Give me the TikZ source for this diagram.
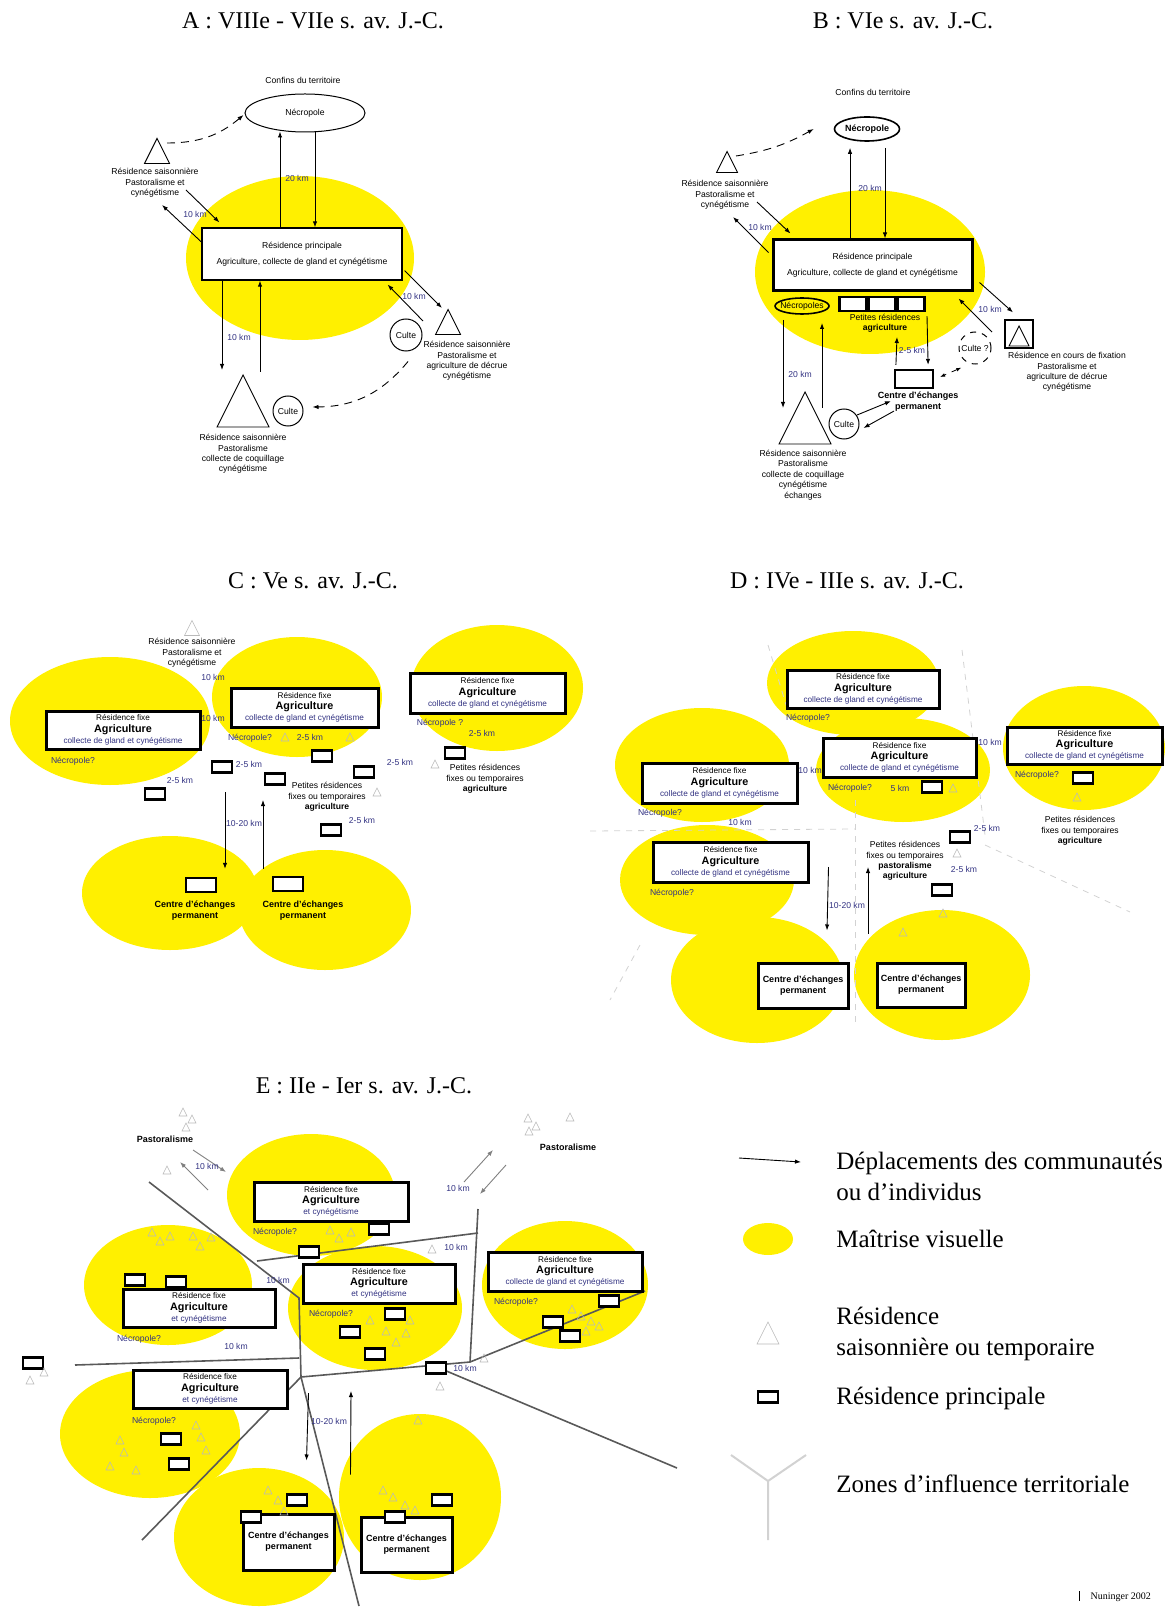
\documentclass[tikz,border=0pt]{standalone}
\usepackage{fontspec}
\setmainfont{Liberation Serif}
\setsansfont{Liberation Sans}
\usetikzlibrary{arrows.meta,shapes.geometric,calc}
\definecolor{ycol}{RGB}{255,240,0}
\definecolor{tblue}{RGB}{50,50,130}
\newcommand\trg[5][trs]{\coordinate (#2) at (#3,#4);\path[#1] ($(#2)+(0,-#5/2)$) -- ($(#2)+(#5/2,#5/2)$) -- ($(#2)+(-#5/2,#5/2)$) -- cycle;}
\newcommand\ft[2]{\draw[ftr] (#1,#2-4) -- (#1+4,#2+4) -- (#1-4,#2+4) -- cycle;}
\newcommand\rfx[1]{Résidence fixe\\{\fontsize{5.4}{5.6}\selectfont\bfseries Agriculture}\\{\color{tblue}#1}}
\tikzset{
  yel/.style={fill=ycol},
  ttl/.style={font=\rmfamily\fontsize{12}{14}\selectfont, inner sep=0},
  lgt/.style={font=\rmfamily\fontsize{12.5}{15.5}\selectfont, inner sep=0, align=left},
  sm/.style={font=\sffamily\fontsize{4.3}{5.2}\selectfont, inner sep=0.5pt, align=center},
  smb/.style={font=\sffamily\bfseries\fontsize{4.5}{5.4}\selectfont, inner sep=0.5pt, align=center},
  arr/.style={-{Latex[length=3pt,width=2.2pt]}, line width=0.45pt},
  darr/.style={arr, dashed, dash pattern=on 4pt off 3pt},
  bxa/.style={draw, line width=0.6pt, fill=white, inner sep=0.5pt, align=center, font=\sffamily\fontsize{4.1}{5.6}\selectfont},
  bxt/.style={bxa, line width=1.5pt},
  rs/.style={draw, line width=1.1pt, fill=white, minimum width=10pt, minimum height=5.5pt, inner sep=0},
  trs/.style={draw, line width=0.45pt},
  ftr/.style={draw=gray!55, line width=0.3pt},
  zl/.style={draw=black!65, line width=0.8pt},
  zd/.style={draw=gray!35, dashed, line width=0.4pt},
}
\begin{document}
\begin{tikzpicture}[x=0.5pt,y=-0.5pt]
\useasboundingbox (0,0) rectangle (1167,1609);
% ================= PANEL A =================
\fill[yel] (300,258) ellipse [x radius=114, y radius=82];
\node[ttl] (tA) at (313,21) {A : VIIIe - VIIe s. av. J.-C.};
\node[sm] (confA) at (303,80) {Confins du territoire};
\node[draw, ellipse, line width=0.5pt, minimum width=60pt, minimum height=19pt, inner sep=0, sm] (necA) at (305,113) {Nécropole};
\node[bxa, font=\sffamily\fontsize{4.3}{5.2}\selectfont, minimum width=100pt, minimum height=26pt] (boxA) at (302,254) {Résidence principale\\[3pt]Agriculture, collecte de gland et cynégétisme};
\draw[arr] ($(boxA.north)+(-22,0)$) -- ($(necA.south)+(-25,-1)$);
\draw[arr] ($(necA.south)+(10,0)$) -- ($(boxA.north)+(13,0)$);
\node[sm, text=tblue] (kA1) at (297,178) {20 km};
\trg{trA1}{157}{151}{25}
\node[sm] (txA1) at (155,183) {Résidence saisonnière\\Pastoralisme et\\cynégétisme};
\draw[darr] ($(trA1)+(10,-8)$) to[bend right=20] ($(necA.west)+(-1,2)$);
\coordinate (a1s) at (186,190);
\draw[arr] (a1s) -- ($(boxA.north west)+(18,-5)$);
\coordinate (a1e) at (162,205);
\draw[arr] ($(boxA.west)+(0,-12)$) -- (a1e);
\node[sm, text=tblue] (kA2) at (195,214) {10 km};
\trg{trA2}{448}{322}{25}
\node[sm] (txA2) at (467,361) {Résidence saisonnière\\Pastoralisme et\\agriculture de décrue\\cynégétisme};
\node[draw, circle, line width=0.5pt, minimum size=16pt, inner sep=0, sm] (cuA1) at (406,335) {Culte};
\draw[arr] ($(boxA.south east)+(2,-10)$) -- ($(trA2)+(-6,-14)$);
\coordinate (a2s) at (423,321);
\draw[arr] (a2s) -- ($(boxA.south east)+(-15,4)$);
\node[sm, text=tblue] (kA3) at (414,296) {10 km};
\coordinate (a3e) at (222,370);
\draw[arr] ($(boxA.south)+(-80,0)$) -- (a3e);
\coordinate (a3s) at (260,372);
\draw[arr] (a3s) -- ($(boxA.south)+(-42,0)$);
\node[sm, text=tblue] (kA4) at (239,337) {10 km};
\trg{trA3}{243}{401}{52}
\node[draw, circle, line width=0.5pt, minimum size=15pt, inner sep=0, sm] (cuA2) at (288,411) {Culte};
\draw[darr] ($(cuA1.south)+(2,10)$) to[bend left=25] ($(cuA2.east)+(9,-4)$);
\node[sm] (txA3) at (243,454) {Résidence saisonnière\\Pastoralisme\\collecte de coquillage\\cynégétisme};
% ================= PANEL B =================
\fill[yel] (870,272) ellipse [x radius=115, y radius=82];
\node[ttl] (tB) at (903,21) {B : VIe s. av. J.-C.};
\node[sm] (confB) at (873,92) {Confins du territoire};
\node[draw, ellipse, line width=0.8pt, minimum width=30pt, minimum height=12pt, inner sep=0, smb] (necB) at (867,129) {Nécropole};
\trg{trB1}{727}{162}{21}
\node[sm] (txB1) at (725,195) {Résidence saisonnière\\Pastoralisme et\\cynégétisme};
\draw[darr] ($(trB1)+(9,-6)$) to[bend right=10] ($(necB.west)+(-20,0)$);
\node[bxt, font=\sffamily\fontsize{4.3}{5.2}\selectfont, minimum width=99.5pt, minimum height=25.5pt] (boxB) at (872.5,265.5) {Résidence principale\\[3pt]Agriculture, collecte de gland et cynégétisme};
\draw[arr] ($(boxB.north)+(-22.5,0)$) -- ($(necB.south)+(-17,6)$);
\draw[arr] ($(necB.south)+(18,6)$) -- ($(boxB.north)+(12.5,0)$);
\node[sm, text=tblue] (kB1) at (870,188) {20 km};
\coordinate (b1s) at (757,202);
\draw[arr] (b1s) -- ($(boxB.north west)+(19,-5)$);
\coordinate (b1e) at (733,217);
\draw[arr] ($(boxB.west)+(-3,-13)$) -- (b1e);
\node[sm, text=tblue] (kB2) at (760,227) {10 km};
\node[draw, line width=0.6pt, minimum size=14pt, inner sep=0] (sqB) at (1019,334) {};
\trg{trB2}{1019}{336}{20}
\draw[arr] ($(boxB.east)+(6,17)$) -- ($(sqB.north)+(-6,-7)$);
\coordinate (b2s) at (992,332);
\draw[arr] (b2s) -- ($(boxB.south east)+(-15,6)$);
\node[sm, text=tblue] (kB3) at (990,309) {10 km};
\node[sm] (txB2) at (1067,372) {Résidence en cours de fixation\\Pastoralisme et\\agriculture de décrue\\cynégétisme};
\node[sm] (necB2) at (802,306) {Nécropoles};
\draw[line width=0.8pt] (necB2) ellipse [x radius=27, y radius=8];
\node[rs, minimum width=13.5pt, minimum height=7pt] (rB1) at (853,304) {};
\node[rs, minimum width=13.5pt, minimum height=7pt] (rB2) at (882,304) {};
\node[rs, minimum width=13.5pt, minimum height=7pt] (rB3) at (911,304) {};
\node[sm] (txB3) at (885,323) {Petites résidences\\\textbf{agriculture}};
\node[rs, minimum width=19pt, minimum height=9pt] (ctB) at (914,379) {};
\node[smb] (txB4) at (918,402) {Centre d'échanges\\permanent};
\coordinate (b3e) at (897,337);
\draw[arr] ($(ctB.north west)+(2,-4)$) -- (b3e);
\draw[arr] ($(rB3.south)+(16,4)$) -- ($(ctB.north east)+(-6,-4)$);
\node[sm, text=tblue] (kB4) at (912,350) {2-5 km};
\node[draw, dashed, circle, line width=0.5pt, minimum size=16pt, inner sep=0, sm] (cuB1) at (975,348) {Culte ?};
\draw[dashed, line width=0.4pt, {Latex[length=2.5pt]}-{Latex[length=2.5pt]}] ($(cuB1.south west)+(-2,8)$) -- ($(ctB.east)+(6,-2)$);
\trg{trB3}{805}{418}{52}
\draw[arr] ($(necB2)+(-19,14)$) -- ($(trB3)+(-22,-10)$);
\draw[arr] ($(trB3)+(17,-10)$) -- ($(necB2)+(20,17)$);
\node[sm, text=tblue] (kB5) at (800,374) {20 km};
\node[draw, circle, line width=0.5pt, minimum size=15pt, inner sep=0, sm] (cuB2) at (844,424) {Culte};
\draw[arr] ($(cuB2.north east)+(2,2)$) -- ($(ctB.south west)+(-3,12)$);
\draw[arr] ($(ctB.south west)+(0,22)$) -- ($(cuB2.east)+(4,4)$);
\node[sm] (txB5) at (803,475) {Résidence saisonnière\\Pastoralisme\\collecte de coquillage\\cynégétisme\\échanges};
% ================= PANEL C =================
\fill[yel] (110,721) ellipse [x radius=100, y radius=64];
\fill[yel] (297,697) ellipse [x radius=85, y radius=60];
\fill[yel] (497,688) ellipse [x radius=86, y radius=63];
\fill[yel] (170,893) ellipse [x radius=88, y radius=57];
\fill[yel] (325,910) ellipse [x radius=86, y radius=60];
\node[ttl] (tC) at (313,581) {C : Ve s. av. J.-C.};
\trg[ftr]{trC0}{192}{628}{15}
\node[sm] (txC0) at (192,653) {Résidence saisonnière\\Pastoralisme et\\cynégétisme};
\node[bxt, minimum width=77pt, minimum height=19pt] (bC1) at (123,730) {\rfx{collecte de gland et cynégétisme}};
\node[bxt, minimum width=73.5pt, minimum height=19.5pt] (bC2) at (304.5,707.5) {\rfx{collecte de gland et cynégétisme}};
\node[bxt, minimum width=77.5pt, minimum height=20pt] (bC3) at (487.5,693) {\rfx{collecte de gland et cynégétisme}};
\node[sm, text=tblue] (kC1) at (213,677) {10 km};
\node[sm, text=tblue] (kC2) at (213,718) {10 km};
\node[sm, text=tblue] (nC1) at (73,761) {Nécropole?};
\node[sm, text=tblue] (nC2) at (250,738) {Nécropole?};
\ft{285}{737}
\node[sm, text=tblue] (kC3) at (310,737) {2-5 km};
\ft{350}{737}
\node[sm, text=tblue] (nC3) at (440,723) {Nécropole ?};
\node[sm, text=tblue] (kC4) at (482,733) {2-5 km};
\node[rs] (rC1) at (222,767) {};
\node[rs] (rC2) at (155,794) {};
\node[rs] (rC3) at (275,779) {};
\node[rs] (rC4) at (322,756) {};
\node[rs] (rC5) at (364,772) {};
\node[rs] (rC6) at (331,830) {};
\node[rs] (rC7) at (455,753) {};
\node[sm, text=tblue] (kC5) at (249,764) {2-5 km};
\node[sm, text=tblue] (kC6) at (180,780) {2-5 km};
\node[sm, text=tblue] (kC7) at (362,820) {2-5 km};
\node[sm, text=tblue] (kC8) at (400,762) {2-5 km};
\ft{435}{764}
\ft{377}{792}
\node[sm] (txC1) at (327,797) {Petites résidences\\fixes ou temporaires\\\textbf{agriculture}};
\node[sm] (txC2) at (485,779) {Petites résidences\\fixes ou temporaires\\\textbf{agriculture}};
\node[rs, minimum width=15pt, minimum height=7pt] (rC8) at (201,885) {};
\node[rs, minimum width=15pt, minimum height=7pt] (rC9) at (288,884) {};
\coordinate (c1s) at (225,792);
\draw[arr] (c1s) -- ($(rC8.north)+(24,-8)$);
\coordinate (c2e) at (263,800);
\draw[arr] ($(rC9.north)+(-25,-7)$) -- (c2e);
\node[sm, text=tblue] (kC9) at (244,823) {10-20 km};
\node[smb] (txC3) at (195,911) {Centre d'échanges\\permanent};
\node[smb] (txC4) at (303,911) {Centre d'échanges\\permanent};
% ================= PANEL D =================
\fill[yel] (853,683) ellipse [x radius=86, y radius=52];
\fill[yel] (903,770) ellipse [x radius=87, y radius=52];
\fill[yel] (702,765) ellipse [x radius=87, y radius=57];
\fill[yel] (1084,748) ellipse [x radius=81, y radius=62];
\fill[yel] (707,880) ellipse [x radius=87, y radius=55];
\fill[yel] (757,980) ellipse [x radius=86, y radius=63];
\fill[yel] (942,975) ellipse [x radius=88, y radius=65];
\draw[zd] (590,831) -- (855,829);
\draw[zd] (855,800) -- (855,1025);
\draw[zd] (768,645) -- (790,718);
\draw[zd] (962,650) -- (985,835);
\draw[zd] (985,845) -- (1130,912);
\draw[zd] (640,945) -- (610,1000);
\node[ttl] (tD) at (847,581) {D : IVe - IIIe s. av. J.-C.};
\node[bxt, minimum width=76pt, minimum height=19pt] (bD1) at (863,689) {\rfx{collecte de gland et cynégétisme}};
\node[bxt, minimum width=76.5pt, minimum height=19.5pt] (bD2) at (899.5,757.5) {\rfx{collecte de gland et cynégétisme}};
\node[bxt, minimum width=77.5pt, minimum height=20pt] (bD3) at (719.5,783) {\rfx{collecte de gland et cynégétisme}};
\node[bxt, minimum width=77.5pt, minimum height=18.5pt] (bD4) at (1084.5,745.5) {\rfx{collecte de gland et cynégétisme}};
\node[bxt, minimum width=77.5pt, minimum height=20pt] (bD5) at (730.5,862) {\rfx{collecte de gland et cynégétisme}};
\node[sm, text=tblue] (nD1) at (808,718) {Nécropole?};
\node[sm, text=tblue] (nD2) at (850,788) {Nécropole?};
\node[sm, text=tblue] (kD1) at (900,788) {5 km};
\node[rs] (rD1) at (932,787) {};
\ft{953}{788}
\node[sm, text=tblue] (nD3) at (660,813) {Nécropole?};
\node[sm, text=tblue] (kD2) at (740,822) {10 km};
\node[sm, text=tblue] (kD3) at (810,770) {10 km};
\node[sm, text=tblue] (nD4) at (1037,775) {Nécropole?};
\node[rs] (rD2) at (1083,778) {};
\ft{1077}{797}
\node[sm, text=tblue] (kD4) at (990,742) {10 km};
\node[sm] (txD1) at (1080,831) {Petites résidences\\fixes ou temporaires\\\textbf{agriculture}};
\node[sm, text=tblue] (nD5) at (672,893) {Nécropole?};
\node[sm] (txD2) at (905,861) {Petites résidences\\fixes ou temporaires\\\textbf{pastoralisme}\\\textbf{agriculture}};
\node[rs] (rD3) at (960,837) {};
\node[rs] (rD4) at (942,890) {};
\ft{957}{853}
\node[sm, text=tblue] (kD5) at (987,828) {2-5 km};
\node[sm, text=tblue] (kD6) at (964,869) {2-5 km};
\node[bxt, minimum width=45pt, minimum height=22.5pt, smb] (bD6) at (803,985.5) {Centre d'échanges\\permanent};
\node[bxt, minimum width=44pt, minimum height=22pt, smb] (bD7) at (921,985) {Centre d'échanges\\permanent};
\draw[arr] ($(bD5.east)+(19,5)$) -- ($(bD6.north)+(24,-31)$);
\coordinate (d2e) at (868,867);
\draw[arr] ($(bD7.north)+(-53,-28)$) -- (d2e);
\node[sm, text=tblue] (kD7) at (847,905) {10-20 km};
\ft{903}{932}
\ft{943}{913}
% ================= PANEL E =================
\fill[yel] (311,1195) ellipse [x radius=84, y radius=61];
\fill[yel] (168,1285) ellipse [x radius=84, y radius=60];
\fill[yel] (375,1308) ellipse [x radius=87, y radius=62];
\fill[yel] (565,1285) ellipse [x radius=83, y radius=64];
\fill[yel] (150,1434) ellipse [x radius=90, y radius=64];
\fill[yel] (259,1537) ellipse [x radius=85, y radius=69];
\fill[yel] (420,1497) ellipse [x radius=81, y radius=83];
\node[ttl] (tE) at (364,1086) {E : IIe - Ier s. av. J.-C.};
\coordinate (P1) at (149,1182);
\coordinate (P2) at (299,1298);
\coordinate (P3) at (301,1377);
\coordinate (H1) at (75,1365);
\coordinate (H2) at (299,1358);
\coordinate (D1) at (257,1261);
\coordinate (D2) at (478,1233);
\coordinate (V1) at (478,1209);
\coordinate (V2) at (470,1362);
\coordinate (F2) at (645,1291);
\coordinate (G2) at (142,1540);
\coordinate (K2) at (359,1606);
\coordinate (I1) at (444,1370);
\coordinate (I2) at (677,1468);
\draw[zl] (P1) -- (P2) -- (P3);
\draw[zl] (H1) -- (H2);
\draw[zl] (D1) -- (D2);
\draw[zl] (V1) -- (V2);
\draw[zl] (P3) -- (V2) -- (F2);
\draw[zl] (P3) -- (G2);
\draw[zl] (P3) -- (K2);
\draw[zl] (I1) -- (I2);
% top-left pastoralism
\ft{183}{1112}\ft{192}{1119}\ft{186}{1127}
\node[smb] (pE1) at (165,1139) {Pastoralisme};
\ft{167}{1170}
\coordinate (e1s) at (193,1150);
\coordinate (e1e) at (226,1172);
\draw[arr, gray] (e1s) -- (e1e);
\coordinate (e2s) at (208,1190);
\coordinate (e2e) at (180,1162);
\draw[arr, gray] (e2s) -- (e2e);
\node[sm, text=tblue] (kE1) at (207,1166) {10 km};
% top-right pastoralism
\ft{528}{1118}\ft{536}{1126}\ft{529}{1131}\ft{570}{1117}
\node[smb] (pE2) at (568,1147) {Pastoralisme};
\coordinate (e3s) at (464,1182);
\coordinate (e3e) at (493,1150);
\draw[arr, gray] (e3s) -- (e3e);
\coordinate (e4s) at (506,1165);
\coordinate (e4e) at (480,1194);
\draw[arr, gray] (e4s) -- (e4e);
\node[sm, text=tblue] (kE2) at (458,1188) {10 km};
% boxes
\node[bxt, minimum width=77pt, minimum height=19.5pt] (bE1) at (331,1201.5) {\rfx{et cynégétisme}};
\node[bxt, minimum width=76pt, minimum height=19pt] (bE2) at (199,1308) {\rfx{et cynégétisme}};
\node[bxt, minimum width=76pt, minimum height=19.5pt] (bE3) at (379,1283.5) {\rfx{et cynégétisme}};
\node[bxt, minimum width=77pt, minimum height=19.5pt] (bE4) at (565,1271.5) {\rfx{collecte de gland et cynégétisme}};
\node[bxt, minimum width=77pt, minimum height=19pt] (bE5) at (210,1389) {\rfx{et cynégétisme}};
\node[bxt, minimum width=45.5pt, minimum height=28pt, smb] (bE6) at (288.5,1542) {Centre d'échanges\\permanent};
\node[bxt, minimum width=45.5pt, minimum height=27.5pt, smb] (bE7) at (406.5,1544.5) {Centre d'échanges\\permanent};
% small residences
\node[rs] (rE1) at (379,1229) {};
\node[rs] (rE2) at (309,1252) {};
\node[rs] (rE3) at (135,1280) {};
\node[rs] (rE4) at (176,1282) {};
\node[rs] (rE5) at (395,1314) {};
\node[rs] (rE6) at (350,1332) {};
\node[rs] (rE7) at (375,1354) {};
\node[rs] (rE8) at (609,1301) {};
\node[rs] (rE9) at (553,1322) {};
\node[rs] (rE10) at (570,1336) {};
\node[rs] (rE11) at (171,1439) {};
\node[rs] (rE12) at (179,1464) {};
\node[rs] (rE13) at (33,1363) {};
\node[rs] (rE14) at (436,1368) {};
\node[rs] (rE15) at (251,1517) {};
\node[rs] (rE16) at (297,1500) {};
\node[rs] (rE17) at (395,1517) {};
\node[rs] (rE18) at (442,1500) {};
% labels
\node[sm, text=tblue] (nE1) at (275,1232) {Nécropole?};
\node[sm, text=tblue] (nE2) at (331,1314) {Nécropole?};
\node[sm, text=tblue] (nE3) at (139,1339) {Nécropole?};
\node[sm, text=tblue] (nE4) at (516,1302) {Nécropole?};
\node[sm, text=tblue] (nE5) at (154,1421) {Nécropole?};
\node[sm, text=tblue] (kE3) at (236,1346) {10 km};
\node[sm, text=tblue] (kE4) at (278,1280) {10 km};
\node[sm, text=tblue] (kE5) at (456,1247) {10 km};
\node[sm, text=tblue] (kE6) at (465,1368) {10 km};
\ft{432}{1249}
\draw[arr] ($(bE5.east)+(20,4)$) -- ($(bE6.north)+(18,-52)$);
\coordinate (e5e) at (351,1391);
\draw[arr] ($(bE7.north)+(-56,-41)$) -- (e5e);
\node[sm, text=tblue] (kE7) at (329,1421) {10-20 km};
% faint seasonal residences
\ft{152}{1232}\ft{160}{1241}\ft{170}{1236}\ft{193}{1236}\ft{200}{1246}\ft{211}{1237}
\ft{330}{1230}\ft{339}{1238}\ft{351}{1232}
\ft{370}{1320}\ft{386}{1331}\ft{396}{1342}\ft{410}{1320}\ft{406}{1333}
\ft{572}{1309}\ft{581}{1316}\ft{591}{1321}\ft{586}{1331}\ft{599}{1326}
\ft{196}{1425}\ft{201}{1437}\ft{206}{1450}\ft{120}{1440}\ft{124}{1452}\ft{110}{1466}\ft{136}{1470}
\ft{268}{1490}\ft{278}{1500}\ft{284}{1511}
\ft{383}{1490}\ft{393}{1497}\ft{405}{1505}\ft{415}{1510}
\ft{30}{1380}\ft{44}{1372}\ft{440}{1386}\ft{484}{1358}\ft{418}{1420}
% ================= LEGEND =================
\coordinate (lgA) at (739,1158);
\coordinate (lgB) at (801,1162);
\draw[arr] (lgA) -- (lgB);
\node[lgt, anchor=west] (lg1) at (836,1176) {Déplacements des communautés\\ou d'individus};
\fill[yel] (768,1239) ellipse [x radius=25, y radius=16];
\node[lgt, anchor=west] (lg2) at (836,1239) {Maîtrise visuelle};
\trg[ftr]{lgT}{768}{1333}{22}
\node[lgt, anchor=west] (lg3) at (836,1334) {Résidence\\saisonnière ou temporaire};
\node[rs] (lgR) at (768,1397) {};
\node[lgt, anchor=west] (lg4) at (836,1398) {Résidence principale};
\coordinate (lgY) at (768,1481);
\draw[gray!35, line width=1pt] (lgY) -- (731,1455) (lgY) -- (806,1455) (lgY) -- (768,1540);
\node[lgt, anchor=west] (lg5) at (836,1484) {Zones d'influence territoriale};
\node[font=\rmfamily\fontsize{5}{6}\selectfont, anchor=east] (sig) at (1158,1597) {Nuninger 2002};
\draw[line width=0.4pt] ($(sig.west)+(-4,-6)$) -- ($(sig.west)+(-4,4)$);
\end{tikzpicture}
\end{document}
